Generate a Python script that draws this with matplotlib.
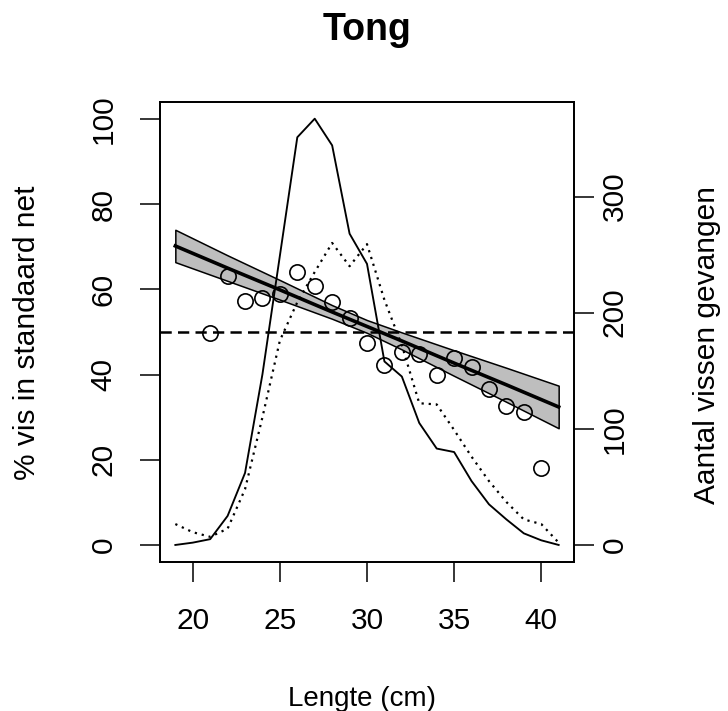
import matplotlib
matplotlib.use("Agg")
import matplotlib.pyplot as plt
import numpy as np

plt.rcParams["font.family"] = ["Liberation Sans", "DejaVu Sans"]

# lengte-klassen (cm)
lengths = np.arange(19, 42)

# aantal vissen gevangen per lengteklasse (rechter as)
n_standard = [0, 2, 5, 25, 62, 147, 249, 351, 367, 344, 268, 242, 158,
              145, 105, 83, 80, 55, 35, 22, 10, 4, 0]
n_other = [18, 11, 7, 14, 48, 110, 176, 209, 235, 260, 240, 259, 211,
           172, 122, 121, 99, 76, 55, 37, 22, 18, 2]

# % vis in standaard net (punten)
pct_lengths = np.arange(21, 41)
pct_standard = [49.8, 63.1, 57.3, 58.0, 59.0, 64.2, 60.8, 57.1, 53.4, 47.5,
                42.2, 45.3, 44.8, 40.0, 43.9, 41.8, 36.5, 32.7, 31.1, 18.0]

# regressielijn met betrouwbaarheidsband
fit_lengths = [19, 22, 25, 28, 30, 32, 35, 38, 41]
fit_mid = [70.2, 65.0, 59.9, 54.7, 51.3, 47.9, 42.7, 37.6, 32.4]
fit_upper = [74.0, 68.0, 62.2, 56.3, 52.8, 49.9, 45.7, 41.6, 37.4]
fit_lower = [66.4, 62.0, 57.6, 53.1, 49.8, 45.9, 39.7, 33.6, 27.4]

pct_ticks = [0, 20, 40, 60, 80, 100]
count_ticks = [0, 100, 200, 300]
x_ticks = [20, 25, 30, 35, 40]
count_per_pct = 3.667

W, H = 728, 711
fig = plt.figure(figsize=(W / 100, H / 100), dpi=100)
ax = fig.add_axes([160 / W, 1 - 562 / H, (574 - 160) / W, (562 - 102) / H])
ax2 = ax.twinx()

ax.fill_between(fit_lengths, fit_lower, fit_upper, facecolor="#bebebe",
                edgecolor="black", linewidth=1.1, zorder=1)
ax.plot(fit_lengths, fit_mid, color="black", linewidth=2.6, zorder=2)
ax.axhline(50, color="black", linewidth=1.8, linestyle=(0, (4.5, 2.5)), zorder=2)
ax.plot(pct_lengths, pct_standard, linestyle="none", marker="o",
        markersize=11, markerfacecolor="none", markeredgecolor="black",
        markeredgewidth=1.2, zorder=3)

ax2.plot(lengths, n_standard, color="black", linewidth=1.35)
ax2.plot(lengths, n_other, color="black", linewidth=1.6, linestyle=(0, (1, 2.2)))

ax.set_xlim(18.12, 41.88)
ax.set_ylim(-4, 104)
ax2.set_ylim(-4 * count_per_pct, 104 * count_per_pct)

ax.set_xticks(x_ticks)
ax.set_yticks(pct_ticks)
ax2.set_yticks(count_ticks)

for a in (ax, ax2):
    for s in a.spines.values():
        s.set_linewidth(1.3)
    a.tick_params(length=14.4, width=1.1, labelsize=21.5)
ax.tick_params(axis="x", pad=18)
ax.tick_params(axis="y", labelrotation=90, pad=16)
ax2.tick_params(axis="y", labelrotation=90, pad=5)
for lab in ax.get_yticklabels() + ax2.get_yticklabels():
    lab.set_verticalalignment("center")

fig.text(367 / W, 1 - 40 / H, "Tong", ha="center", va="baseline",
         fontsize=27, fontweight="bold")
fig.text(362 / W, 1 - 706 / H, "Lengte (cm)", ha="center", va="baseline",
         fontsize=20)
fig.text(27 / W, 1 - 333 / H, "% vis in standaard net", ha="center",
         va="center", rotation=90, fontsize=21.5)
fig.text(707 / W, 1 - 345 / H, "Aantal vissen gevangen", ha="center",
         va="center", rotation=90, fontsize=21.5)

fig.savefig("out.png", dpi=100)
plt.close(fig)
